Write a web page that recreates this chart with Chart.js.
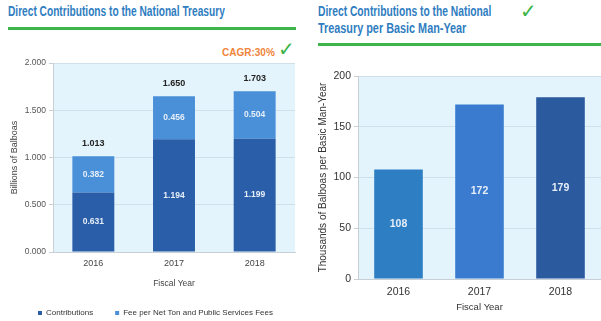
<!DOCTYPE html>
<html>
<head>
<meta charset="utf-8">
<script src="https://cdn.jsdelivr.net/npm/chart.js@4"></script>
<style>
  body { margin: 0; width: 601px; height: 321px; overflow: hidden; position: relative; background: #fff;
         font-family: 'Liberation Sans', Arial, sans-serif; }
  .title { position: absolute; color: #2f7dc1; font-weight: bold; font-size: 14px; line-height: 17px;
           white-space: nowrap; transform-origin: 0 0; }
  .rule { position: absolute; height: 3px; background: #3db54a; }
  .check { position: absolute; color: #3db54a; font-family: 'DejaVu Sans', sans-serif; font-size: 20px; line-height: 20px; }
  #cagr { position: absolute; color: #f0843a; font-weight: bold; font-size: 10px; line-height: 12px; }
  canvas { position: absolute; }
</style>
</head>
<body>
<div class="title" data-w="217" style="left:8px; top:3px;">Direct Contributions to the National Treasury</div>
<div class="rule" style="left:8px; top:27px; width:288px;"></div>
<div id="cagr" style="left:222px; top:47px;">CAGR:30%</div>
<div class="check" style="left:278px; top:39px;">✓</div>

<div class="title" data-w="173" style="left:318px; top:3px;">Direct Contributions to the National</div>
<div class="title" data-w="148" style="left:318px; top:20px;">Treasury per Basic Man-Year</div>
<div class="check" style="left:520px; top:1px;">✓</div>
<div class="rule" style="left:318px; top:43px; width:283px;"></div>

<div style="position:absolute; left:0; top:55px; width:300px; height:272px;"><canvas id="left-chart"></canvas></div>
<div style="position:absolute; left:300px; top:55px; width:301px; height:258px;"><canvas id="right-chart"></canvas></div>

<script>
// Títulos em fonte condensada: ajusta a largura ao original
document.querySelectorAll(".title").forEach(el => {
  el.style.transform = "scaleX(" + (Number(el.dataset.w) / el.offsetWidth) + ")";
});

// Dados
const years = ["2016", "2017", "2018"];
const contributions = [0.631, 1.194, 1.199];
const fees = [0.382, 0.456, 0.504];
const totals = [1.013, 1.650, 1.703];
const perManYear = [108, 172, 179];
const perManYearColors = ["#2e7ec4", "#3b7bcf", "#2b5a9f"];

const fontName = "'Liberation Sans', Arial, sans-serif";
const plotBg = "#e4f4fc";
const gridColor = "rgba(190, 208, 218, 0.55)";

// Fundo azul claro da área do gráfico
const bgPlugin = {
  id: "plotBg",
  beforeDraw(chart) {
    const a = chart.chartArea;
    chart.ctx.save();
    chart.ctx.fillStyle = plotBg;
    chart.ctx.fillRect(a.left, a.top, a.right - a.left, a.bottom - a.top);
    chart.ctx.restore();
  }
};

// Desloca a legenda um pouco para a direita, como no original
const legendShift = {
  id: "legendShift",
  afterLayout(chart) {
    if (chart.legend) {
      chart.legend.left += 8;
      chart.legend.right += 8;
    }
  }
};

// Rótulos dentro das barras e totais acima
const labelPlugin = {
  id: "barLabels",
  afterDatasetsDraw(chart, args, opts) {
    const ctx = chart.ctx;
    ctx.save();
    ctx.textAlign = "center";
    ctx.textBaseline = "middle";
    chart.data.datasets.forEach((ds, i) => {
      chart.getDatasetMeta(i).data.forEach((bar, j) => {
        const p = bar.getProps(["x", "y", "base"], true);
        ctx.fillStyle = "#e6eef8";
        ctx.font = "bold " + opts.size + "px " + fontName;
        ctx.fillText(opts.format(ds.data[j]), p.x, (p.y + p.base) / 2);
      });
    });
    if (opts.totals) {
      const last = chart.getDatasetMeta(chart.data.datasets.length - 1).data;
      last.forEach((bar, j) => {
        ctx.fillStyle = "#222";
        ctx.font = "bold 9px " + fontName;
        ctx.fillText(opts.format(opts.totals[j]), bar.x, bar.y - 13);
      });
    }
    ctx.restore();
  }
};

// Gráfico da esquerda - contribuições empilhadas
new Chart(document.getElementById("left-chart"), {
  type: "bar",
  data: {
    labels: years,
    datasets: [
      { label: "Contributions", data: contributions, backgroundColor: "#2b5ea8", barPercentage: 0.52, categoryPercentage: 1 },
      { label: "Fee per Net Ton and Public Services Fees", data: fees, backgroundColor: "#4a90d9", barPercentage: 0.52, categoryPercentage: 1 }
    ]
  },
  plugins: [bgPlugin, labelPlugin, legendShift],
  options: {
    responsive: true,
    maintainAspectRatio: false,
    animation: false,
    layout: { padding: { top: 7, right: 5, left: 0, bottom: 0 } },
    scales: {
      x: {
        stacked: true,
        grid: { display: false, drawTicks: false },
        border: { color: "#c8d0d6" },
        ticks: { color: "#444", font: { family: fontName, size: 9 }, padding: 6 },
        title: { display: true, text: "Fiscal Year", color: "#444", font: { family: fontName, size: 8.5 }, padding: { top: 0, bottom: -2 } },
        afterFit(scale) { scale.height = 35; }
      },
      y: {
        stacked: true,
        min: 0, max: 2,
        ticks: { stepSize: 0.5, color: "#555", font: { family: fontName, size: 8.5 }, padding: 3,
                 callback: v => v.toFixed(3) },
        grid: { color: gridColor, tickColor: "#c8d0d6", tickLength: 4 },
        border: { color: "#c8d0d6" },
        title: { display: true, text: "Billions of Balboas", color: "#444", font: { family: fontName, size: 9 }, padding: { top: 9, bottom: 0 } },
        afterFit(scale) { scale.width = 53; }
      }
    },
    plugins: {
      legend: {
        position: "bottom",
        labels: { color: "#333", font: { family: fontName, size: 8 }, boxWidth: 4, boxHeight: 4, padding: 22 }
      },
      tooltip: { enabled: false },
      barLabels: { size: 8.5, totals: totals, format: v => v.toFixed(3) }
    }
  }
});

// Gráfico da direita - contribuição por homem-ano básico
new Chart(document.getElementById("right-chart"), {
  type: "bar",
  data: {
    labels: years,
    datasets: [
      { label: "Per Basic Man-Year", data: perManYear, backgroundColor: perManYearColors, barPercentage: 0.6, categoryPercentage: 1 }
    ]
  },
  plugins: [bgPlugin, labelPlugin],
  options: {
    responsive: true,
    maintainAspectRatio: false,
    animation: false,
    layout: { padding: { top: 21, right: 0, left: 0, bottom: 0 } },
    scales: {
      x: {
        grid: { display: false, drawTicks: false },
        border: { color: "#c8d0d6" },
        ticks: { color: "#333", font: { family: fontName, size: 10.5 }, padding: 7 },
        title: { display: true, text: "Fiscal Year", color: "#333", font: { family: fontName, size: 9.5 }, padding: { top: 0, bottom: 0 } },
        afterFit(scale) { scale.height = 34; }
      },
      y: {
        min: 0, max: 200,
        ticks: { stepSize: 50, color: "#333", font: { family: fontName, size: 10.5 }, padding: 3 },
        grid: { color: gridColor, tickColor: "#c8d0d6", tickLength: 4 },
        border: { color: "#c8d0d6" },
        title: { display: true, text: "Thousands of Balboas per Basic Man-Year", color: "#333", font: { family: fontName, size: 10 }, padding: { top: 17, bottom: 0 } },
        afterFit(scale) { scale.width = 58; }
      }
    },
    plugins: {
      legend: { display: false },
      tooltip: { enabled: false },
      barLabels: { size: 10.5, totals: null, format: v => String(v) }
    }
  }
});
</script>
</body>
</html>
